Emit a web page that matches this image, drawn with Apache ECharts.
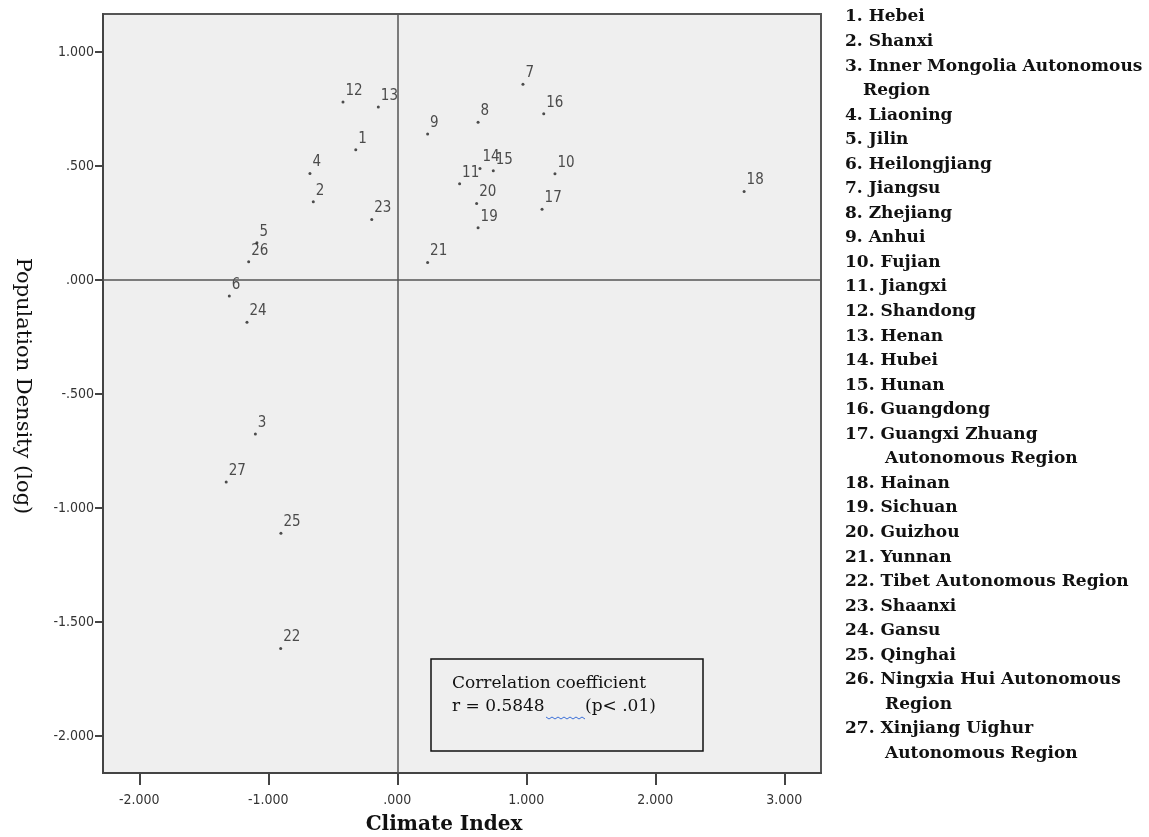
<!DOCTYPE html>
<html>
<head>
<meta charset="utf-8">
<script src="https://cdn.jsdelivr.net/npm/echarts@6/dist/echarts.min.js"></script>
<style>
html,body{margin:0;padding:0;background:#fff;}
#chart{width:1149px;height:837px;}
</style>
</head>
<body>
<div id="chart"></div>
<script>
// ---- data ----
const ids = [1,2,3,4,5,6,7,8,9,10,11,12,13,14,15,16,17,18,19,20,21,22,23,24,25,26,27];
const climateIndex = [-0.322,-0.651,-1.100,-0.677,-1.088,-1.302,0.974,0.626,0.235,1.222,0.483,-0.421,-0.147,0.641,0.744,1.135,1.122,2.688,0.626,0.615,0.235,-0.904,-0.198,-1.165,-0.902,-1.152,-1.326];
const popDensity = [0.572,0.343,-0.675,0.467,0.164,-0.070,0.859,0.692,0.641,0.466,0.423,0.781,0.759,0.489,0.480,0.729,0.311,0.388,0.229,0.336,0.077,-1.616,0.266,-0.185,-1.110,0.080,-0.886];
const xTicks = [-2,-1,0,1,2,3];
const yTicks = [-2,-1.5,-1,-0.5,0,0.5,1];
const legendLines = [
  "1. Hebei","2. Shanxi","3. Inner Mongolia Autonomous","Region","4. Liaoning","5. Jilin",
  "6. Heilongjiang","7. Jiangsu","8. Zhejiang","9. Anhui","10. Fujian","11. Jiangxi",
  "12. Shandong","13. Henan","14. Hubei","15. Hunan","16. Guangdong","17. Guangxi Zhuang",
  "Autonomous Region","18. Hainan","19. Sichuan","20. Guizhou","21. Yunnan",
  "22. Tibet Autonomous Region","23. Shaanxi","24. Gansu","25. Qinghai",
  "26. Ningxia Hui Autonomous","Region","27. Xinjiang Uighur","Autonomous Region"
];
const xTitle = "Climate Index";
const yTitle = "Population Density (log)";
const corrLine1 = "Correlation coefficient";
const corrR = "r = 0.5848";
const corrP = "(p< .01)";

// ---- chart ----
const spss = v => {
  if (v === 0) return ".000";
  const s = Math.abs(v).toFixed(3);
  const t = Math.abs(v) < 1 ? s.replace(/^0/, "") : s;
  return (v < 0 ? "-" : "") + t;
};
const tickFont = "'Liberation Sans Narrow','DejaVu Sans Condensed','Arial Narrow',sans-serif";
const points = ids.map((id, i) => [climateIndex[i], popDensity[i], id]);

const graphics = [];
let prevPrefix = 0;
legendLines.forEach((line, i) => {
  const m = line.match(/^(\d+)\./);
  let indent = 0;
  if (m) { prevPrefix = m[1].length; } else { indent = prevPrefix === 1 ? 18 : 40; }
  graphics.push({
    type: 'text', x: 845 + indent, y: 17 + i * 24.55,
    style: { text: line, font: "bold 17px 'DejaVu Serif', serif", fill: '#111', textVerticalAlign: 'middle' }
  });
});
graphics.push({
  type: 'text', x: 444, y: 825,
  style: { text: xTitle, font: "bold 20px 'DejaVu Serif', serif", fill: '#111', textAlign: 'center', textVerticalAlign: 'middle' }
});
graphics.push({
  type: 'text', x: 22, y: 386, rotation: -Math.PI / 2,
  style: { text: yTitle, font: "21px 'DejaVu Serif', serif", fill: '#111', textAlign: 'center', textVerticalAlign: 'middle' }
});
graphics.push({
  type: 'rect', shape: { x: 431, y: 659, width: 272, height: 92 },
  style: { fill: '#efefef', stroke: '#111', lineWidth: 1.5 }, z: 10
});
graphics.push({
  type: 'text', x: 452, y: 684, z: 11,
  style: { text: corrLine1, font: "17px 'DejaVu Serif', serif", fill: '#111', textVerticalAlign: 'middle' }
});
graphics.push({
  type: 'text', x: 452, y: 707, z: 11,
  style: { text: corrR, font: "17px 'DejaVu Serif', serif", fill: '#111', textVerticalAlign: 'middle' }
});
graphics.push({
  type: 'text', x: 585, y: 707, z: 11,
  style: { text: corrP, font: "17px 'DejaVu Serif', serif", fill: '#111', textVerticalAlign: 'middle' }
});
// spell-check squiggle
const sq = [];
for (let k = 0; k <= 13; k++) sq.push([546 + k * 3, 717 + (k % 2 ? 2 : 0)]);
graphics.push({ type: 'polyline', shape: { points: sq }, style: { stroke: '#3b6fd8', lineWidth: 1, fill: null }, z: 11 });

const chart = echarts.init(document.getElementById('chart'), null, { renderer: 'canvas' });
chart.setOption({
  animation: false,
  backgroundColor: '#ffffff',
  grid: { left: 103, top: 14, right: 328, bottom: 64, show: true, backgroundColor: '#efefef', borderColor: '#555', borderWidth: 2 },
  xAxis: {
    type: 'value', min: -2.281, max: 3.284,
    axisLine: { show: true, onZero: false, lineStyle: { color: '#444', width: 2 } },
    axisTick: { show: true, length: 12, lineStyle: { color: '#444', width: 2 }, customValues: xTicks },
    axisLabel: { customValues: xTicks, formatter: v => spss(v), margin: 20, color: '#333', fontSize: 14, fontFamily: tickFont },
    splitLine: { show: false }
  },
  yAxis: {
    type: 'value', min: -2.162, max: 1.167,
    axisLine: { show: true, onZero: false, lineStyle: { color: '#444', width: 2 } },
    axisTick: { show: true, length: 8, lineStyle: { color: '#444', width: 2 }, customValues: yTicks },
    axisLabel: { customValues: yTicks, formatter: v => spss(v), margin: 9, color: '#333', fontSize: 14, fontFamily: tickFont },
    splitLine: { show: false }
  },
  series: [{
    type: 'scatter',
    data: points,
    symbol: 'circle', symbolSize: 3,
    itemStyle: { color: '#222' },
    label: {
      show: true, position: 'right', distance: 1, offset: [0, -11],
      formatter: p => String(p.value[2]),
      color: '#222', fontSize: 15, fontFamily: tickFont
    },
    markLine: {
      silent: true, symbol: 'none', label: { show: false },
      lineStyle: { color: '#555', width: 1.5, type: 'solid' },
      data: [{ xAxis: 0 }, { yAxis: 0 }]
    }
  }],
  graphic: graphics
});
</script>
</body>
</html>
